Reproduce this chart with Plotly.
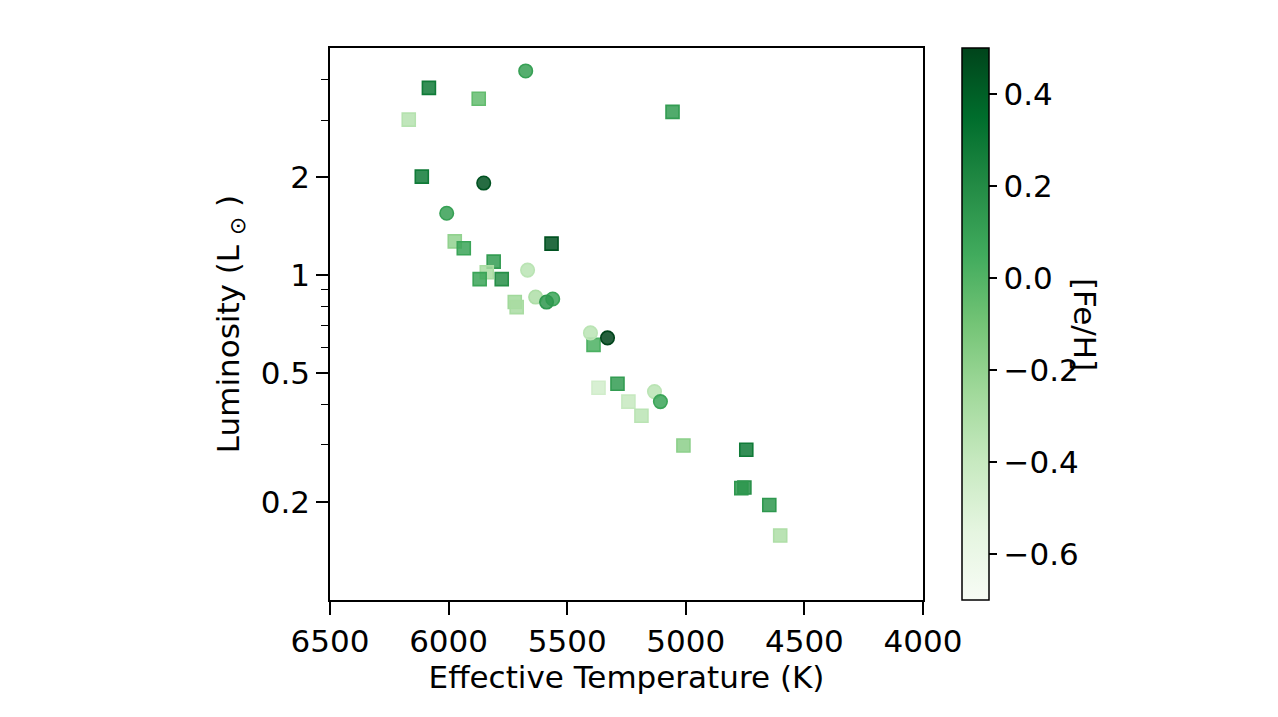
import plotly.graph_objects as go

# ---- data ----
circle_teff = [5675, 5852, 6008, 5667, 5633, 5561, 5587, 5402, 5330, 5132, 5107]
circle_lum = [4.25, 1.92, 1.55, 1.036, 0.856, 0.844, 0.826, 0.664, 0.641, 0.438, 0.408]
circle_feh = [0.10, 0.45, 0.10, -0.35, -0.30, 0.08, 0.14, -0.35, 0.50, -0.35, 0.08]

square_teff = [6083, 5873, 6168, 6113, 5974, 5936, 5566, 5810, 5839, 5869, 5776,
               5721, 5713, 5389, 5368, 5288, 5242, 5187, 5010, 4745, 4753, 4766,
               4648, 4602, 5056]
square_lum = [3.77, 3.49, 3.01, 2.01, 1.27, 1.21, 1.25, 1.10, 1.02, 0.972, 0.972,
              0.826, 0.797, 0.610, 0.450, 0.463, 0.408, 0.369, 0.299, 0.290, 0.222, 0.221,
              0.196, 0.158, 3.18]
square_feh = [0.28, -0.05, -0.33, 0.28, -0.20, 0.08, 0.45, 0.12, -0.28, 0.08, 0.18,
              -0.25, -0.28, 0.02, -0.45, 0.12, -0.40, -0.35, -0.18, 0.28, 0.18, 0.14,
              0.14, -0.30, 0.12]

x_ticks = [6500, 6000, 5500, 5000, 4500, 4000]
y_ticks = [0.2, 0.5, 1, 2]
y_ticktext = ["0.2", "0.5", "1", "2"]
y_minor = [0.3, 0.4, 0.6, 0.7, 0.8, 0.9, 3, 4]
cb_ticks = [-0.6, -0.4, -0.2, 0.0, 0.2, 0.4]
cb_ticktext = ["\u22120.6", "\u22120.4", "\u22120.2", "0.0", "0.2", "0.4"]

# ---- style ----
greens_hex = ["#f7fcf5", "#e5f5e0", "#c7e9c0", "#a1d99b", "#74c476",
              "#41ab5d", "#238b45", "#006d2c", "#00441b"]
greens = [[i / 8, c] for i, c in enumerate(greens_hex)]


def rgba(h, a):
    return "rgba(%d,%d,%d,%.2f)" % (int(h[1:3], 16), int(h[3:5], 16), int(h[5:7], 16), a)


greens_fill = [[i / 8, rgba(c, 0.85)] for i, c in enumerate(greens_hex)]
CMIN, CMAX = -0.7, 0.5
FONT = "DejaVu Sans"
FS = 31

fig = go.Figure()


def add(teff, lum, feh, symbol, size, name):
    fig.add_trace(go.Scatter(
        x=teff, y=lum, mode="markers", name=name, showlegend=False,
        marker=dict(symbol=symbol, size=size, color=feh, colorscale=greens_fill,
                    cmin=CMIN, cmax=CMAX, showscale=False,
                    line=dict(width=1.6, color=feh, coloraxis="coloraxis")),
    ))


add(square_teff, square_lum, square_feh, "square", 13, "squares")
add(circle_teff, circle_lum, circle_feh, "circle", 13.5, "circles")

axis_common = dict(showline=True, linecolor="black", linewidth=1.5, mirror=True,
                   ticks="outside", tickcolor="black", tickwidth=1.5,
                   showgrid=False, zeroline=False,
                   tickfont=dict(family=FONT, size=FS, color="black"))

fig.update_layout(
    width=1278, height=717,
    margin=dict(l=330, r=355, t=48, b=117, pad=0),
    paper_bgcolor="white", plot_bgcolor="white",
    font=dict(family=FONT, size=FS, color="black"),
    xaxis=dict(range=[6500, 4000], tickvals=x_ticks, ticklen=13,
               title=dict(text="Effective Temperature (K)", standoff=8,
                          font=dict(family=FONT, size=FS, color="black")),
               **axis_common),
    yaxis=dict(type="log", range=[-1, 0.69897], tickvals=y_ticks, ticktext=y_ticktext,
               ticklen=12,
               minor=dict(tickvals=y_minor, ticks="outside", ticklen=7,
                          tickwidth=1.2, tickcolor="black", showgrid=False),
               title=dict(text="Luminosity (L <sub>\u2299</sub> )", standoff=12,
                          font=dict(family=FONT, size=FS, color="black")),
               **axis_common),
    coloraxis=dict(
        colorscale=greens, cmin=CMIN, cmax=CMAX,
        colorbar=dict(
            x=(962 - 330) / 593, xanchor="left", xpad=0,
            y=0.5, yanchor="middle", ypad=0, len=1, lenmode="fraction",
            thickness=27, thicknessmode="pixels",
            outlinewidth=1.5, outlinecolor="black",
            ticks="outside", ticklen=8, tickwidth=1.5, tickcolor="black",
            tickvals=cb_ticks, ticktext=cb_ticktext,
            tickfont=dict(family=FONT, size=FS, color="black"),
        ),
    ),
    annotations=[dict(text="[Fe/H]", textangle=90, xref="paper", yref="paper",
                      x=(1085 - 330) / 593, y=0.5, xanchor="center", yanchor="middle",
                      showarrow=False, font=dict(family=FONT, size=FS, color="black"))],
)

fig.write_html("out.html")
